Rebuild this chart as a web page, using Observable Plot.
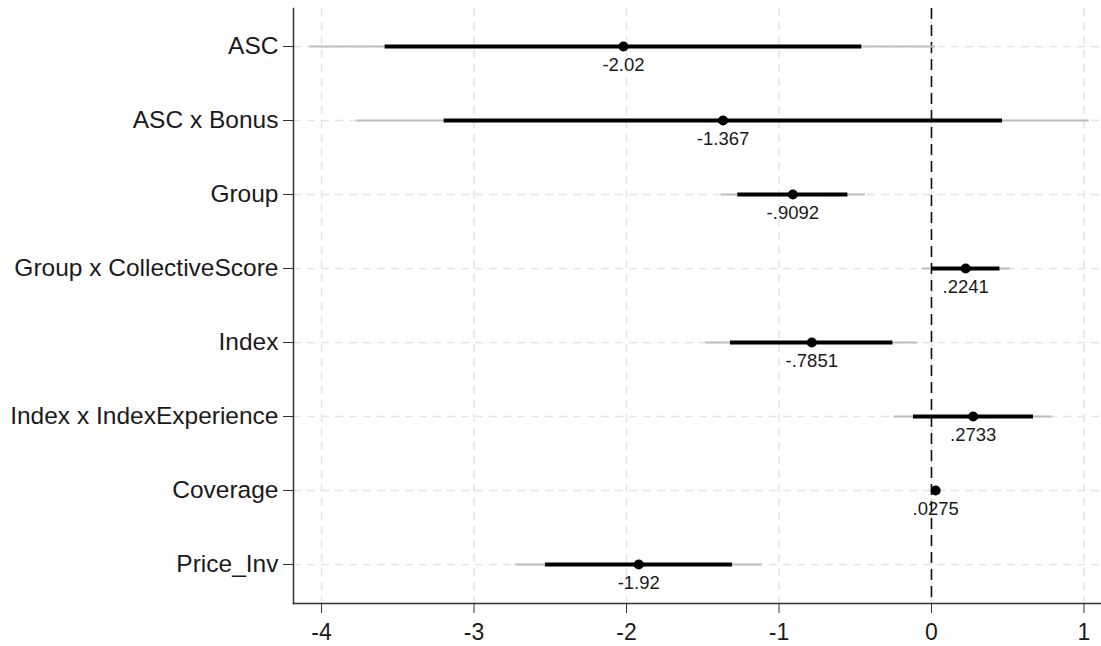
<!DOCTYPE html>
<html>
<head>
<meta charset="utf-8">
<script src="https://cdn.jsdelivr.net/npm/d3@7"></script>
<script src="https://cdn.jsdelivr.net/npm/@observablehq/plot@0.6"></script>
<style>
  html, body { margin: 0; padding: 0; background: #fff; }
  #chart { width: 1101px; height: 646px; }
</style>
</head>
<body>
<div id="chart"></div>
<script>
const names = ["ASC", "ASC x Bonus", "Group", "Group x CollectiveScore", "Index", "Index x IndexExperience", "Coverage", "Price_Inv"];
const coefs = [-2.02, -1.367, -0.9092, 0.2241, -0.7851, 0.2733, 0.0275, -1.92];
const coefLabels = ["-2.02", "-1.367", "-.9092", ".2241", "-.7851", ".2733", ".0275", "-1.92"];
const lo95 = [-4.075, -3.769, -1.379, -0.060, -1.481, -0.247, 0.018, -2.729];
const hi95 = [0.027, 1.035, -0.433, 0.517, -0.090, 0.791, 0.037, -1.111];
const lo90 = [-3.583, -3.196, -1.270, 0.000, -1.318, -0.118, 0.021, -2.532];
const hi90 = [-0.457, 0.466, -0.548, 0.449, -0.253, 0.669, 0.034, -1.305];
const xTicks = [-4, -3, -2, -1, 0, 1];
const xTickLabels = ["-4", "-3", "-2", "-1", "0", "1"];

const data = names.map((n, i) => ({
  name: n, coef: coefs[i], label: coefLabels[i],
  lo95: lo95[i], hi95: hi95[i], lo90: lo90[i], hi90: hi90[i]
}));

const font = "'Liberation Sans', Arial, sans-serif";

const chart = Plot.plot({
  width: 1101,
  height: 646,
  marginLeft: 293,
  marginRight: 0,
  marginTop: 8,
  marginBottom: 43,
  style: { fontFamily: font, background: "#fff", color: "#1a1a1a" },
  x: { domain: [-4.184, 1.115] },
  y: { type: "point", domain: names, range: [43, 566], padding: 0 },
  marks: [
    Plot.gridX(xTicks, { stroke: "#e4e4e4", strokeOpacity: 1, strokeWidth: 1.5, strokeDasharray: "8,6" }),
    Plot.gridY(names, { stroke: "#e4e4e4", strokeOpacity: 1, strokeWidth: 1.5, strokeDasharray: "8,6" }),
    Plot.ruleX([0], { stroke: "#111", strokeWidth: 1.6, strokeDasharray: "11,6" }),
    Plot.ruleY(data, { y: "name", x1: "lo95", x2: "hi95", stroke: "#bdbdbd", strokeWidth: 2 }),
    Plot.ruleY(data, { y: "name", x1: "lo90", x2: "hi90", stroke: "#000", strokeWidth: 4 }),
    Plot.dot(data, { x: "coef", y: "name", r: 5, fill: "#000", stroke: "none" }),
    Plot.text(data, { x: "coef", y: "name", text: "label", dy: 19, fontSize: 18.5, fill: "#1a1a1a" }),
    Plot.frame({ anchor: "left", stroke: "#333", strokeWidth: 1.5 }),
    Plot.frame({ anchor: "bottom", stroke: "#333", strokeWidth: 1.5 }),
    Plot.axisX({ ticks: xTicks, tickFormat: (d) => xTickLabels[xTicks.indexOf(d)], tickSize: 10, tickPadding: 10, fontSize: 23, stroke: "#333", label: null, fill: "#1a1a1a" }),
    Plot.axisY({ tickSize: 10, tickPadding: 5, fontSize: 24.5, stroke: "#333", label: null, fill: "#1a1a1a" })
  ]
});
document.getElementById("chart").appendChild(chart);
</script>
</body>
</html>
